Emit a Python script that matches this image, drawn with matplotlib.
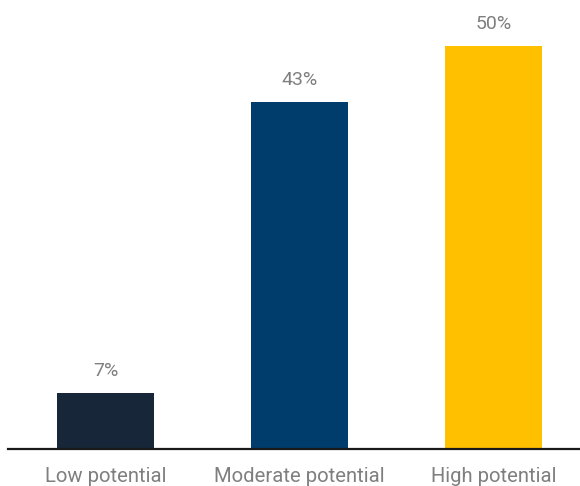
import matplotlib
matplotlib.use('Agg')
import matplotlib.pyplot as plt

categories = ['Low potential', 'Moderate potential', 'High potential']
values = [7, 43, 50]
labels = ['7%', '43%', '50%']
colors = ['#172638', '#003c6c', '#ffc000']

plt.rcParams['font.family'] = ['Roboto', 'DejaVu Sans']

fig = plt.figure(figsize=(5.8, 4.86), dpi=100)
ax = fig.add_axes([0.0138, 0.0761, 0.9862, 0.9239])

x = range(len(categories))
bars = ax.bar(x, values, width=0.5, color=colors)

for b, lab in zip(bars, labels):
    ax.annotate(lab, (b.get_x() + b.get_width() / 2, b.get_height()),
                xytext=(0, 13), textcoords='offset pixels',
                ha='center', va='bottom', fontsize=14, color='#7f7f7f')

ax.set_xlim(-0.503, 2.446)
ax.set_ylim(0, 55.7)
ax.set_xticks(list(x))
ax.set_xticklabels(categories, fontsize=14.6, color='#7f7f7f')
ax.tick_params(axis='x', length=0, pad=13)
ax.set_yticks([])

for s in ['top', 'right', 'left']:
    ax.spines[s].set_visible(False)
ax.spines['bottom'].set_linewidth(1.6)
ax.spines['bottom'].set_color('#1a1a1a')

fig.savefig('out.png', dpi=100)
